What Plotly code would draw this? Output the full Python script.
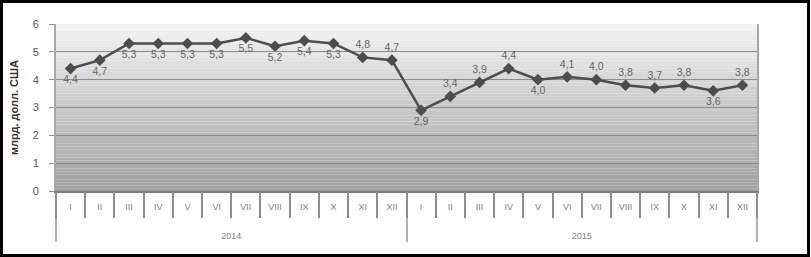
import plotly.graph_objects as go

years = ["2014"] * 12 + ["2015"] * 12
months = ["I", "II", "III", "IV", "V", "VI", "VII", "VIII", "IX", "X", "XI", "XII"] * 2
values = [4.4, 4.7, 5.3, 5.3, 5.3, 5.3, 5.5, 5.2, 5.4, 5.3, 4.8, 4.7,
          2.9, 3.4, 3.9, 4.4, 4.0, 4.1, 4.0, 3.8, 3.7, 3.8, 3.6, 3.8]
label_pos = ["bottom center"] * 10 + ["top center"] * 2 + \
            ["bottom center", "top center", "top center", "top center", "bottom center",
             "top center", "top center", "top center", "top center", "top center",
             "bottom center", "top center"]
y_ticks = [0, 1, 2, 3, 4, 5, 6]
y_title = "млрд. долл. США"

# month labels carry blank extra lines so the year row sits lower
month_labels = [m + "<br> <br> " for m in months]

W, H = 811, 257
ML, MR, MT, MB = 56, 54, 24, 66
PW, PH = W - ML - MR, H - MT - MB
xr = [-0.5, len(values) - 0.5]

fig = go.Figure()

# invisible trace on overlay axis to draw category boundary ticks
fig.add_trace(go.Scatter(x=[years, month_labels], y=values, xaxis="x2", yaxis="y",
                         mode="markers", marker=dict(opacity=0), hoverinfo="skip",
                         showlegend=False))

fig.add_trace(go.Scatter(
    x=[years, month_labels], y=values, mode="lines+markers+text",
    line=dict(color="#4d4d4d", width=2.5),
    marker=dict(symbol="diamond", size=9, color="#4d4d4d"),
    texttemplate="%{y:.1f}", textposition=label_pos,
    textfont=dict(family="Liberation Sans", size=10.5, color="#666666"),
    showlegend=False, cliponaxis=False, hoverinfo="skip"))

# vertical gradient background of the plot area
n = 60
top = (242, 242, 242)
bot = (160, 160, 160)
for i in range(n):
    t = i / (n - 1)
    c = tuple(int(round(bot[k] + (top[k] - bot[k]) * t)) for k in range(3))
    fig.add_shape(type="rect", xref="x domain", yref="y", x0=0, x1=1,
                  y0=6 * i / n, y1=6 * (i + 1) / n, layer="below",
                  line=dict(width=0), fillcolor="rgb(%d,%d,%d)" % c)

# outer black frame
fig.add_shape(type="rect", xref="paper", yref="paper",
              x0=(1.5 - ML) / PW, x1=(808.5 - ML) / PW,
              y0=(H - MB - 255.5) / PH, y1=(H - MB - 1.5) / PH,
              line=dict(color="black", width=3), fillcolor="rgba(0,0,0,0)")

fig.update_layout(
    width=W, height=H, margin=dict(l=ML, r=MR, t=MT, b=MB, autoexpand=False),
    plot_bgcolor="white", paper_bgcolor="white",
    separators=", ",
    font=dict(family="Liberation Sans", size=10, color="#595959"),
    xaxis=dict(type="multicategory", range=xr, showgrid=False, showline=True,
               linecolor="#7a7a7a", linewidth=2,
               ticks="", ticklabelstandoff=6,
               tickfont=dict(size=9, color="#7f7f7f"),
               showdividers=True, dividercolor="#b0b0b0", dividerwidth=1.5,
               automargin=False),
    xaxis2=dict(type="multicategory", range=xr, overlaying="x", anchor="y", side="bottom",
                showticklabels=False, showgrid=False, showline=False,
                ticks="outside", ticklen=26, tickcolor="#8c8c8c", tickwidth=1.5,
                tickson="boundaries", showdividers=False, automargin=False),
    yaxis=dict(range=[0, 6], tickvals=y_ticks, showgrid=True, gridcolor="#8c8c8c",
               gridwidth=1.2, zeroline=False, showline=True, linecolor="#a6a6a6",
               linewidth=2, mirror=True, ticks="outside", ticklen=5, tickcolor="#8c8c8c",
               ticklabelstandoff=8,
               tickfont=dict(size=11, color="#595959"),
               title=dict(text="<b>" + y_title + "</b>", standoff=12,
                          font=dict(size=11, color="#333333")),
               automargin=False),
)

fig.write_html("out.html", config={"displayModeBar": False},
               post_script="document.body.style.margin='0';")
